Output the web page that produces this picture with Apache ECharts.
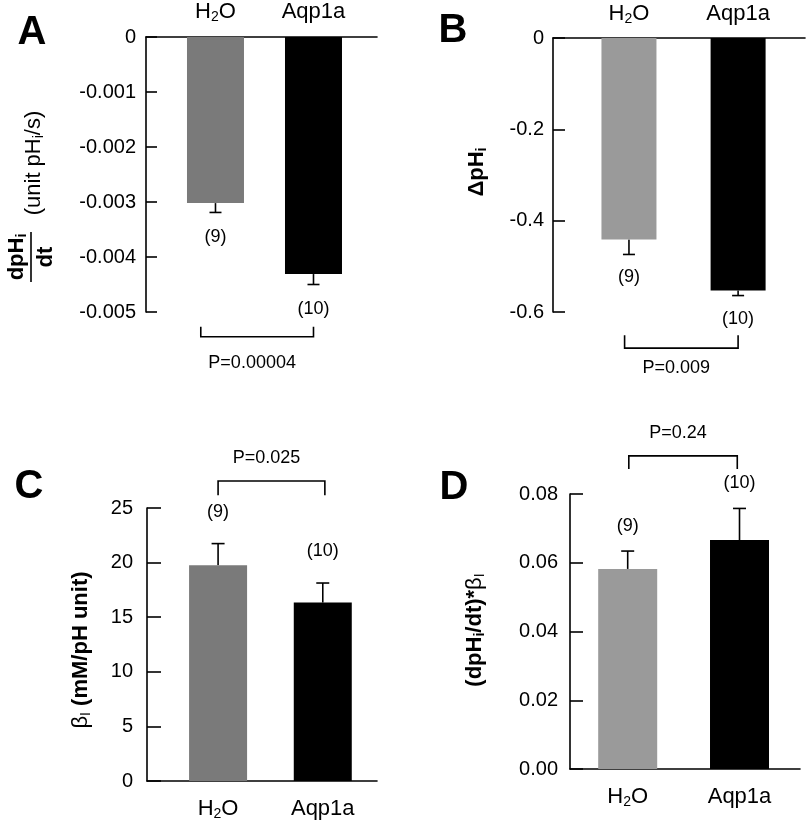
<!DOCTYPE html>
<html><head><meta charset="utf-8">
<script src="https://cdn.jsdelivr.net/npm/echarts@6/dist/echarts.min.js"></script>
<style>html,body{margin:0;padding:0;background:#fff}#c{width:806px;height:825px}</style>
</head><body><div id="c"></div>
<script>
// ---------------- data ----------------
const categories = ['H2O', 'Aqp1a'];
const nCells = [9, 10];
const rateMean = [-0.00302, -0.00431];   // dpHi/dt (unit pHi/s)
const rateSem  = [0.00017, 0.00019];
const dphMean  = [-0.441, -0.553];       // ΔpHi
const dphSem   = [0.033, 0.011];
const betaMean = [19.75, 16.34];         // βI (mM/pH unit)
const betaSem  = [1.99, 1.79];
const fluxMean = [0.0582, 0.0666];       // (dpHi/dt)*βI
const fluxSem  = [0.0052, 0.0092];
const pValues  = ['P=0.00004', 'P=0.009', 'P=0.025', 'P=0.24'];
const yTicksA = [0, -0.001, -0.002, -0.003, -0.004, -0.005];
const yTicksB = [0, -0.2, -0.4, -0.6];
const yTicksC = [0, 5, 10, 15, 20, 25];
const yTicksD = [0, 0.02, 0.04, 0.06, 0.08];
// significance brackets in data units: [x1, yLine, x2, yEnd]
const bracketA = [0.85, -0.00545, 2.0, -0.00527];
const bracketB = [0.96, -0.679, 2.0, -0.651];
const bracketC = [1.0, 27.47, 2.02, 26.16];
const bracketD = [1.01, 0.0911, 1.98, 0.0873];

// ---------------- style ----------------
const FONT = "'Liberation Sans', Arial, Helvetica, sans-serif";
const INK = '#000';
const LW = 1.6;
const catRich = {
  m: {fontSize: 22, fontFamily: FONT, lineHeight: 24, color: INK},
  s: {fontSize: 14, fontFamily: FONT, lineHeight: 8, verticalAlign: 'bottom', color: INK}
};
function catLabel(v) {
  const c = categories[Math.round(v) - 1];
  if (c === 'H2O') return '{m|H}{s|2}{m|O}';
  return '{m|' + c + '}';
}

const panels = [
  {grid: {left: 146, top: 37, width: 231, height: 275}, xr: [0.291, 2.648], ticks: yTicksA,
   fmt: v => v === 0 ? '0' : v.toFixed(3), mean: rateMean, sem: rateSem, gray: '#7a7a7a', bw: 57,
   xPos: 'top', xMargin: 13, yMargin: 10, tick: 11, nOff: 25, cap: 12, bracket: bracketA, p: pValues[0], pOff: 26},
  {grid: {left: 553, top: 38, width: 252, height: 274}, xr: [0.304, 2.613], ticks: yTicksB,
   fmt: v => v === 0 ? '0' : v.toFixed(1), mean: dphMean, sem: dphSem, gray: '#9a9a9a', bw: 55,
   xPos: 'top', xMargin: 12, yMargin: 9, tick: 12, nOff: 23, cap: 12, bracket: bracketB, p: pValues[1], pOff: 20},
  {grid: {left: 147, top: 508, width: 230, height: 273}, xr: [0.321, 2.518], ticks: yTicksC,
   fmt: v => String(v), mean: betaMean, sem: betaSem, gray: '#7a7a7a', bw: 58,
   xPos: 'bottom', xMargin: 16, yMargin: 14, tick: 14, nOff: -32, cap: 13, bracket: bracketC, p: pValues[2], pOff: -23},
  {grid: {left: 570, top: 494, width: 230, height: 275}, xr: [0.484, 2.541], ticks: yTicksD,
   fmt: v => v.toFixed(2), mean: fluxMean, sem: fluxSem, gray: '#9a9a9a', bw: 59,
   xPos: 'bottom', xMargin: 16, yMargin: 12, tick: 13, nOff: -25, cap: 13, bracket: bracketD, p: pValues[3], pOff: -23}
];

const option = {
  animation: false,
  backgroundColor: '#fff',
  grid: [], xAxis: [], yAxis: [], series: [], graphic: []
};

panels.forEach((P, i) => {
  const ymin = Math.min(...P.ticks), ymax = Math.max(...P.ticks);
  option.grid.push(Object.assign({containLabel: false, outerBoundsMode: 'none'}, P.grid));
  option.xAxis.push({
    type: 'value', gridIndex: i, min: P.xr[0], max: P.xr[1], position: P.xPos,
    splitLine: {show: false}, axisTick: {show: false},
    axisLine: {show: true, onZero: false, lineStyle: {color: INK, width: LW}},
    axisLabel: {customValues: [1, 2], formatter: catLabel, margin: P.xMargin, rich: catRich}
  });
  option.yAxis.push({
    type: 'value', gridIndex: i, min: ymin, max: ymax, interval: P.ticks[1] - P.ticks[0] > 0 ? P.ticks[1] - P.ticks[0] : P.ticks[0] - P.ticks[1],
    splitLine: {show: false},
    axisLine: {show: true, lineStyle: {color: INK, width: LW}},
    axisTick: {show: true, inside: true, length: P.tick, lineStyle: {color: INK, width: LW}},
    axisLabel: {formatter: P.fmt, margin: P.yMargin, fontSize: 20, fontFamily: FONT, color: INK}
  });
  const cols = [P.gray, '#000'];
  option.series.push({
    type: 'bar', xAxisIndex: i, yAxisIndex: i, barWidth: P.bw,
    data: P.mean.map((m, k) => ({value: [k + 1, m], itemStyle: {color: cols[k]}})),
    silent: true
  });
  // error bars + n labels
  option.series.push({
    type: 'custom', xAxisIndex: i, yAxisIndex: i, clip: false, silent: true,
    data: P.mean.map((m, k) => [k + 1, m, m + Math.sign(m) * P.sem[k], nCells[k]]),
    encode: {x: 0, y: [1, 2]},
    renderItem(params, api) {
      const x = api.value(0);
      const a = api.coord([x, api.value(1)]);
      const b = api.coord([x, api.value(2)]);
      const s = {stroke: INK, lineWidth: LW};
      return {type: 'group', children: [
        {type: 'line', shape: {x1: a[0], y1: a[1], x2: b[0], y2: b[1]}, style: s},
        {type: 'line', shape: {x1: b[0] - P.cap / 2, y1: b[1], x2: b[0] + P.cap / 2, y2: b[1]}, style: s},
        {type: 'text', x: b[0], y: b[1] + P.nOff, style: {text: '(' + api.value(3) + ')', fill: INK,
          fontSize: 18, fontFamily: FONT, align: 'center', verticalAlign: 'middle'}}
      ]};
    }
  });
  // significance bracket
  option.series.push({
    type: 'custom', xAxisIndex: i, yAxisIndex: i, clip: false, silent: true,
    data: [P.bracket],
    encode: {x: [0, 2], y: [1, 3]},
    renderItem(params, api) {
      const l = api.coord([api.value(0), api.value(1)]);
      const r = api.coord([api.value(2), api.value(1)]);
      const le = api.coord([api.value(0), api.value(3)]);
      const re = api.coord([api.value(2), api.value(3)]);
      return {type: 'group', children: [
        {type: 'polyline', shape: {points: [le, l, r, re]}, style: {stroke: INK, lineWidth: LW, fill: null}},
        {type: 'text', x: (l[0] + r[0]) / 2 - 5, y: l[1] + P.pOff, style: {text: P.p, fill: INK,
          fontSize: 18, fontFamily: FONT, align: 'center', verticalAlign: 'middle'}}
      ]};
    }
  });
});

// panel letters
[['A', 32, 33], ['B', 453, 31], ['C', 29, 487], ['D', 454, 488]].forEach(([t, x, y]) => {
  option.graphic.push({type: 'text', x, y, silent: true,
    style: {text: t, fontSize: 40, fontWeight: 'bold', fontFamily: FONT, fill: INK, align: 'center', verticalAlign: 'middle'}});
});

// y-axis titles
const tRich = {
  b: {fontSize: 22, fontWeight: 'bold', fontFamily: FONT, lineHeight: 24, color: INK},
  bs: {fontSize: 14, fontWeight: 'bold', fontFamily: FONT, lineHeight: 8, verticalAlign: 'bottom', color: INK},
  n: {fontSize: 22, fontFamily: FONT, lineHeight: 24, color: INK},
  ns: {fontSize: 14, fontFamily: FONT, lineHeight: 8, verticalAlign: 'bottom', color: INK}
};
function rotText(text, x, y) {
  return {type: 'text', x, y, rotation: Math.PI / 2, silent: true,
    style: {text, rich: tRich, align: 'center', verticalAlign: 'middle', fill: INK}};
}
option.graphic.push({
  type: 'group', x: 31, y: 257, rotation: Math.PI / 2, silent: true,
  children: [
    {type: 'text', x: 0, y: -14, style: {text: '{b|dpH}{bs|i}', rich: tRich, align: 'center', verticalAlign: 'middle'}},
    {type: 'rect', shape: {x: -25, y: -0.8, width: 50, height: 1.6}, style: {fill: INK}},
    {type: 'text', x: 0, y: 15, style: {text: '{b|dt}', rich: tRich, align: 'center', verticalAlign: 'middle'}},
    {type: 'text', x: 94, y: 3, style: {text: '{n|(unit pH}{ns|i}{n|/s)}', rich: tRich, align: 'center', verticalAlign: 'middle'}}
  ]
});
option.graphic.push(rotText('{b|ΔpH}{bs|i}', 477, 172));
option.graphic.push(rotText('{n|β}{ns|I}{n| }{b|(mM/pH unit)}', 81, 650));
option.graphic.push(rotText('{b|(dpH}{bs|i}{b|/dt)*}{n|β}{ns|I}', 475, 630));

const chart = echarts.init(document.getElementById('c'), null, {renderer: 'canvas'});
chart.setOption(option);
</script>
</body></html>
